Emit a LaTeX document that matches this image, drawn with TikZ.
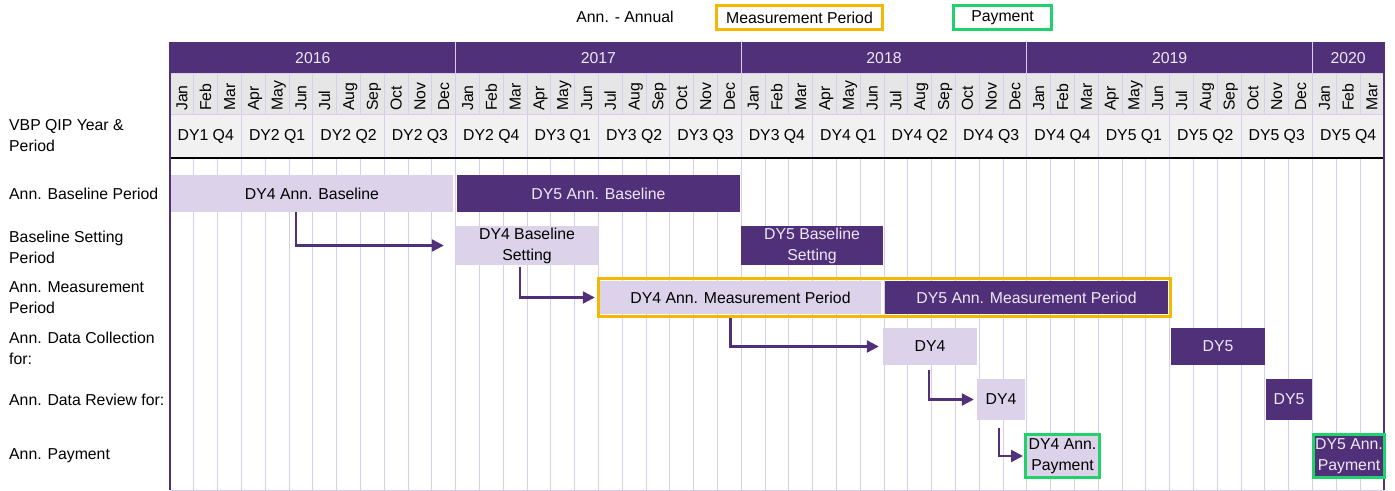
\documentclass[tikz,border=0pt]{standalone}
\usepackage{fontspec}
\setmainfont{Liberation Sans}
\usetikzlibrary{arrows.meta}
\definecolor{VPurple}{HTML}{51307A}
\definecolor{VLight}{HTML}{DCD3EB}
\definecolor{VGrid}{HTML}{D9CCEE}
\definecolor{VGold}{HTML}{F4B800}
\definecolor{VGreen}{HTML}{22D16B}
\definecolor{VMonth}{HTML}{E6E6E6}
\definecolor{VQuarter}{HTML}{F1F1F1}
\definecolor{VPale}{HTML}{EEE8F6}

\begin{document}
\begin{tikzpicture}[
  x=1bp,y=-1bp,
  every node/.style={font=\fontsize{15.8bp}{21bp}\selectfont,inner sep=0pt},
  rowlab/.style={anchor=west,align=left},
  month/.style={rotate=90,anchor=base west},
  wh/.style 2 args={minimum width=#1bp,minimum height=#2bp},
  lightbar/.style={fill=VLight,align=center},
  darkbar/.style={fill=VPurple,text=VPale,align=center},
  gold/.style={draw=VGold,line width=3bp},
  paid/.style={draw=VGreen,line width=3bp,align=center},
  gridline/.style={draw=VGrid,line width=0.8bp},
  flow/.style={-{Triangle[length=12bp,width=12bp]},draw=VPurple,line width=2.4bp}
]
  \useasboundingbox (0,0) rectangle (1395,491);

  % legend
  \node (annkey) at (625,17) {Ann. - Annual};
  \node[gold,wh={166}{24}] (measkey) at (799.5,17.5) {Measurement Period};
  \node[paid,wh={98}{24}] (paykey) at (1002.5,17.5) {Payment};

  % header rows
  \fill[VPurple] (170,42) rectangle (1384,73);
  \fill[VMonth] (170,73) rectangle (1384,114);
  \fill[VQuarter] (170,114) rectangle (1384,158);
  \foreach \yr/\a/\b in {2016/0/12,2017/12/24,2018/24/36,2019/36/48,2020/48/51}
    \node[text=VPale] (y\yr) at ({170+23.8*(\a+\b)/2},58) {\yr};
  \foreach \m in {12,24,36,48}
    \draw[gridline] ({170+23.8*\m},42) -- ({170+23.8*\m},73);
  \foreach \yy in {0,...,4}{
    \foreach \mon [count=\k from 0] in {Jan,Feb,Mar,Apr,May,Jun,Jul,Aug,Sep,Oct,Nov,Dec}{
      \pgfmathtruncatemacro\i{12*\yy+\k}
      \ifnum\i<51
        \node[month] (m\i) at ({170+23.8*(\i+0.5)+5.5},111) {\mon};
      \fi
    }
  }
  \foreach \q [count=\i from 0] in {DY1 Q4,DY2 Q1,DY2 Q2,DY2 Q3,DY2 Q4,DY3 Q1,DY3 Q2,DY3 Q3,
      DY3 Q4,DY4 Q1,DY4 Q2,DY4 Q3,DY4 Q4,DY5 Q1,DY5 Q2,DY5 Q3,DY5 Q4}
    \node (q\i) at ({170+23.8*(3*\i+1.5)},136) {\q};

  % grid
  \draw[gridline] (170,73) -- (1384,73) (170,114) -- (1384,114) (170,490) -- (1384,490);
  \foreach \m in {1,...,50}{
    \draw[gridline] ({170+23.8*\m},73) -- ({170+23.8*\m},114);
    \draw[gridline] ({170+23.8*\m},158) -- ({170+23.8*\m},490);
  }
  \foreach \m in {3,6,...,48}
    \draw[gridline] ({170+23.8*\m},114) -- ({170+23.8*\m},158);
  \draw[line width=2bp] (170,158) -- (1384,158);
  \draw[VPurple,line width=1.5bp] (170,42) -- (170,490) (1384,42) -- (1384,490);

  % row labels
  \node[rowlab] (lqip) at (9,136) {VBP QIP Year \&\\Period};
  \node[rowlab] (lbase) at (9,194) {Ann. Baseline Period};
  \node[rowlab] (lset) at (9,247) {Baseline Setting\\Period};
  \node[rowlab] (lmeas) at (9,298) {Ann. Measurement\\Period};
  \node[rowlab] (lcoll) at (9,348) {Ann. Data Collection\\for:};
  \node[rowlab] (lrev) at (9,400) {Ann. Data Review for:};
  \node[rowlab] (lpay) at (9,456) {Ann. Payment};

  % bars
  \node[lightbar,wh={282}{37}] (base4) at (312,193.5) {DY4 Ann. Baseline};
  \node[darkbar,wh={283}{37}] (base5) at (598.5,193.5) {DY5 Ann. Baseline};
  \node[lightbar,wh={142}{39}] (set4) at (527,245.5) {DY4 Baseline\\Setting};
  \node[darkbar,wh={142}{39}] (set5) at (812,245.5) {DY5 Baseline\\Setting};
  \node[lightbar,wh={281}{33}] (meas4) at (740.5,297.5) {DY4 Ann. Measurement Period};
  \node[darkbar,wh={283}{33}] (meas5) at (1026.5,297.5) {DY5 Ann. Measurement Period};
  \node[gold,wh={572}{38}] (measfrm) at (884.5,297.5) {};
  \node[lightbar,wh={94}{37}] (coll4) at (930,346.5) {DY4};
  \node[darkbar,wh={94}{37}] (coll5) at (1218,346.5) {DY5};
  \node[lightbar,wh={48}{41}] (rev4) at (1001,399.5) {DY4};
  \node[darkbar,wh={46}{41}] (rev5) at (1289,399.5) {DY5};
  \node[lightbar,paid,wh={74}{43}] (pay4) at (1062.5,456) {DY4 Ann.\\Payment};
  \node[darkbar,paid,wh={71}{43}] (pay5) at (1349,456) {DY5 Ann.\\Payment};

  % flow arrows
  \draw[flow] ([xshift=-16bp]base4.south) |- ([xshift=-12bp]set4.west);
  \draw[flow] ([xshift=-7bp,yshift=-2bp]set4.south) |- ([xshift=-5bp]meas4.west);
  \draw[flow] ([xshift=-154bp]measfrm.south) |- ([xshift=-4bp]coll4.west);
  \draw[flow] ([xshift=-1bp,yshift=-5bp]coll4.south) |- ([xshift=-3bp]rev4.west);
  \draw[flow] ([xshift=-2bp,yshift=-8bp]rev4.south) |- ([xshift=-1bp]pay4.west);
\end{tikzpicture}
\end{document}
